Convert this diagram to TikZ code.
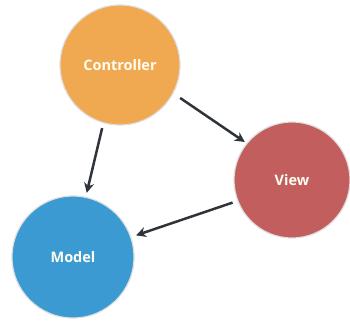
\documentclass[tikz,border=0pt]{standalone}
\usepackage{fontspec}
\setmainfont{Open Sans}
\usetikzlibrary{arrows.meta}
\definecolor{corange}{HTML}{F0A851}
\definecolor{cred}{HTML}{C25F5E}
\definecolor{cblue}{HTML}{3C9AD2}
\definecolor{carrow}{HTML}{2E343A}
\begin{document}
\begin{tikzpicture}[x=1pt,y=-1pt,
  ball/.style={circle, draw=gray!25, line width=1.2pt, inner sep=0pt,
    text=white!95!yellow, font=\bfseries\fontsize{14.5}{16}\selectfont},
  link/.style={draw=carrow, line width=2.5pt, -{Stealth[length=10pt,width=10pt]}}]
\useasboundingbox (0,0) rectangle (350,322);
\node[ball, fill=corange, minimum size=120pt] (c) at (120,65) {Controller};
\node[ball, fill=cred, minimum size=116pt] (v) at (292,180) {View};
\node[ball, fill=cblue, minimum size=122pt] (m) at (73,257) {Model};
\draw[link, shorten <=8pt, shorten >=2pt] (c.-28) -- (v.141);
\draw[link, shorten <=5pt, shorten >=4pt] (c.-106) -- (m.78);
\draw[link, shorten <=5pt, shorten >=5pt] (v.201) -- (m.19);
\end{tikzpicture}
\end{document}
